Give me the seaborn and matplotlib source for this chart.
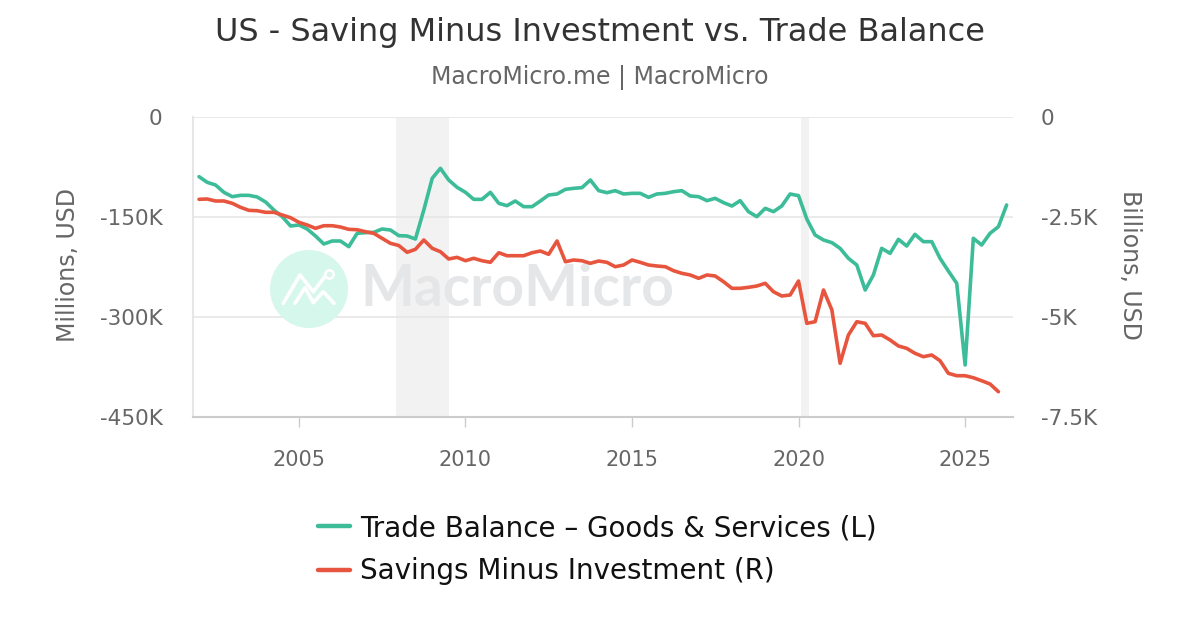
import matplotlib
matplotlib.use("Agg")
import matplotlib.pyplot as plt
from matplotlib.patches import Ellipse
from matplotlib.lines import Line2D
import seaborn as sns
import pandas as pd

# ---------------- data ----------------
quarters = pd.date_range("2002-01-01", periods=98, freq="QS")

trade_balance_k = [  # millions USD, in thousands (K)
    -89.5, -98, -102, -113, -119.5, -117.5, -117.5, -120, -127.5, -139.5,
    -149.5, -163.5, -162, -168, -178.5, -190.5, -186, -186, -194.5, -174.5,
    -173.5, -173, -168, -169.5, -178, -178.5, -183, -139.5, -92, -77,
    -94.5, -105.5, -113, -123.5, -123.5, -113, -129.5, -133, -126, -134.5,
    -134.5, -126, -117, -115.5, -108.5, -107, -106, -94.5, -110.5, -113.5,
    -110.5, -115.5, -114.5, -114.5, -120.5, -115.5, -114.5, -112, -110.5, -118.5,
    -119.5, -125.5, -122, -128.5, -133.5, -125.5, -142, -149.5, -137, -142,
    -133.5, -115.5, -118, -153, -177, -184.5, -188.5, -197, -212, -222,
    -259.5, -237, -197, -204.5, -183.5, -193.5, -176, -187, -187, -212,
    -231, -249.5, -372, -182, -192, -174.5, -164.5, -132,
]

saving_minus_investment_b = [  # billions USD
    -2058, -2050, -2100, -2100, -2158, -2258, -2333, -2343, -2383, -2383,
    -2450, -2518, -2633, -2700, -2783, -2718, -2718, -2750, -2808, -2818,
    -2868, -2908, -3033, -3158, -3213, -3383, -3308, -3075, -3283, -3368,
    -3550, -3508, -3593, -3533, -3593, -3633, -3393, -3468, -3468, -3468,
    -3393, -3350, -3433, -3100, -3618, -3575, -3593, -3658, -3600, -3633,
    -3743, -3700, -3575, -3633, -3700, -3725, -3743, -3843, -3908, -3950,
    -4033, -3950, -3975, -4118, -4283, -4283, -4258, -4225, -4158, -4368,
    -4475, -4450, -4100, -5158, -5118, -4325, -4825, -6158, -5450, -5118,
    -5158, -5468, -5450, -5575, -5725, -5783, -5908, -5993, -5950, -6093,
    -6408, -6468, -6468, -6518, -6593, -6675, -6868,
]

left_ticks = [0, -150, -300, -450]
left_tick_labels = ["0", "-150K", "-300K", "-450K"]
right_ticks = [0, -2500, -5000, -7500]
right_tick_labels = ["0", "-2.5K", "-5K", "-7.5K"]
year_ticks = ["2005", "2010", "2015", "2020", "2025"]
recessions = [("2007-12-01", "2009-06-30"), ("2020-02-01", "2020-04-30")]

trade_label = "Trade Balance \u2013 Goods & Services (L)"
sav_label = "Savings Minus Investment (R)"
GREEN = "#3cbc98"
RED = "#e8553e"

df_trade = pd.DataFrame({"date": quarters, "value": trade_balance_k})
df_sav = pd.DataFrame({"date": quarters[:len(saving_minus_investment_b)],
                       "value": saving_minus_investment_b})

# ---------------- figure ----------------
sns.set_theme(style="white")
plt.rcParams["font.family"] = ["DejaVu Sans"]

W, H = 1200, 630
fig = plt.figure(figsize=(12, 6.3), dpi=100)
L, R, T, B = 193, 1013, 117, 417
ax = fig.add_axes([L / W, 1 - B / H, (R - L) / W, (B - T) / H])
ax2 = ax.twinx()

xmin = pd.Timestamp("2001-10-27")
xmax = pd.Timestamp("2026-06-10")

# recession shading
for s, e in recessions:
    ax.axvspan(pd.Timestamp(s), pd.Timestamp(e), color="#f2f2f2", zorder=0, lw=0)

# gridlines
for t in left_ticks[:-1]:
    ax.axhline(t, color="#e6e6e6", lw=1.2, zorder=0.5)

# watermark
def px(xp, yp):
    return (xp - L) / (R - L), (B - yp) / (B - T)

ax.add_patch(Ellipse(px(309, 289), 78 / (R - L), 78 / (B - T), transform=ax.transAxes,
                     color="#d6f7ec", zorder=0.6, lw=0))
pa = [px(*p) for p in [(283.3, 303.3), (300, 275), (313.3, 291.7), (325, 276.5)]]
pb = [px(*p) for p in [(295, 303.3), (305, 287.7), (313.3, 302.7), (323.3, 291.7), (334, 303.3)]]
for pts in (pa, pb):
    ax.plot([p[0] for p in pts], [p[1] for p in pts], transform=ax.transAxes,
            color="white", lw=2.6, zorder=0.7, solid_capstyle="round")
cx, cy = px(328.5, 274)
ax.plot([cx], [cy], transform=ax.transAxes, marker="o", ms=6, mfc="none",
        mec="white", mew=1.8, zorder=0.7)
wx, wy = px(517, 289)
ax.text(wx, wy, "MacroMicro", transform=ax.transAxes,
        ha="center", va="center", fontsize=41, fontweight="bold", color="#e5e6e8",
        family=["Lato", "DejaVu Sans"], zorder=0.7)

# lines
sns.lineplot(data=df_trade, x="date", y="value", ax=ax, color=GREEN, lw=2.6,
             zorder=3, legend=False)
sns.lineplot(data=df_sav, x="date", y="value", ax=ax2, color=RED, lw=2.6,
             zorder=3, legend=False)

ax.set_xlim(xmin, xmax)
ax.set_ylim(-450, 0)
ax2.set_ylim(-7500, 0)

ax.set_xticks([pd.Timestamp(f"{y}-01-01") for y in year_ticks])
ax.set_xticklabels(year_ticks)
ax.set_yticks(left_ticks)
ax.set_yticklabels(left_tick_labels)
ax2.set_yticks(right_ticks)
ax2.set_yticklabels(right_tick_labels)

for a in (ax, ax2):
    a.set_xlabel("")
    a.set_ylabel("")

ax.tick_params(axis="x", length=7, width=1, color="#cccccc", pad=17,
               labelsize=15, labelcolor="#666666", direction="out", bottom=True)
ax.tick_params(axis="y", length=0, pad=22, labelsize=15.5, labelcolor="#666666")
ax2.tick_params(axis="y", length=0, pad=20, labelsize=15.5, labelcolor="#666666")

for a in (ax, ax2):
    for sp in a.spines.values():
        sp.set_visible(False)
ax.spines["bottom"].set_visible(True)
ax.spines["bottom"].set_color("#cccccc")
ax.spines["bottom"].set_linewidth(1.5)
ax.spines["left"].set_visible(True)
ax.spines["left"].set_color("#e6e6e6")
ax.spines["left"].set_linewidth(1.5)
ax.patch.set_visible(False)
ax2.patch.set_visible(False)
ax.set_zorder(1)
ax2.set_zorder(2)

# titles
fig.text(0.5, 1 - 33 / H, "US - Saving Minus Investment vs. Trade Balance",
         ha="center", va="center", fontsize=23, color="#333333")
fig.text(0.5, 1 - 78 / H, "MacroMicro.me | MacroMicro",
         ha="center", va="center", fontsize=17, color="#666666")
fig.text(68 / W, 1 - 265 / H, "Millions, USD", rotation=90, ha="center",
         va="center", fontsize=17, color="#666666")
fig.text(1130 / W, 1 - 265 / H, "Billions, USD", rotation=270, ha="center",
         va="center", fontsize=17, color="#666666")

# legend
handles = [Line2D([], [], color=GREEN, lw=3.2), Line2D([], [], color=RED, lw=3.2)]
fig.legend(handles, [trade_label, sav_label], loc="upper left",
           bbox_to_anchor=(318 / W, 1 - 514 / H), frameon=False, borderpad=0,
           borderaxespad=0, fontsize=20, handlelength=1.15, handletextpad=0.36,
           labelspacing=0.55, labelcolor="#111111")

fig.savefig("out.png", dpi=100, facecolor="white")
